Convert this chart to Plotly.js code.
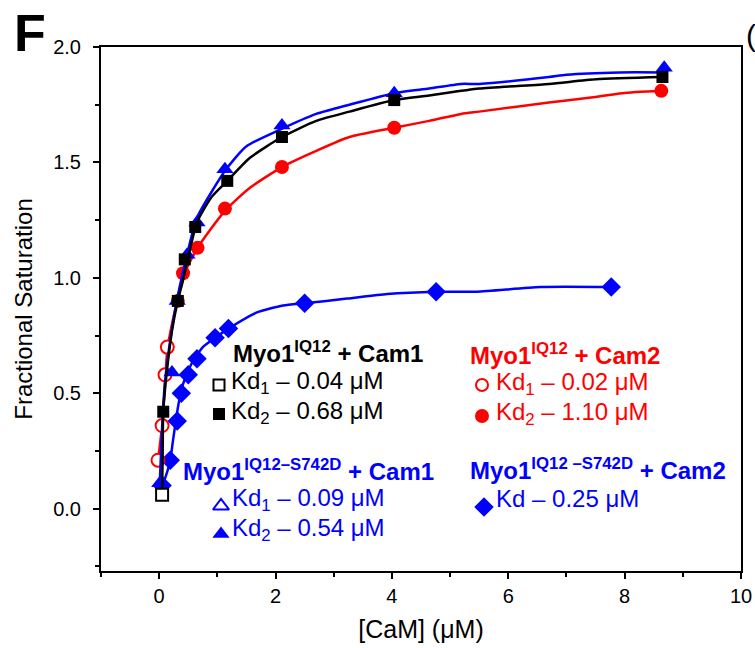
<!DOCTYPE html>
<html>
<head>
<meta charset="utf-8">
<script src="https://cdn.plot.ly/plotly-3.0.1.min.js"></script>
<style>
  html, body { margin: 0; padding: 0; background: #fff; }
  #chart { width: 755px; height: 648px; }
</style>
</head>
<body>
<div id="chart"></div>
<script>
// ---- Myo1 IQ12 + Cam1 (black) ----
const cam1OpenX = [0.05];
const cam1OpenY = [0.06];
const cam1FilledX = [0.07, 0.32, 0.44, 0.62, 1.17, 2.11, 4.04, 8.65];
const cam1FilledY = [0.42, 0.90, 1.08, 1.22, 1.42, 1.61, 1.77, 1.87];
const cam1FitX = [0.05, 0.06, 0.07, 0.13, 0.22, 0.31, 0.41, 0.49, 0.65, 0.90, 1.17, 1.56, 2.11, 2.70, 3.27, 4.04, 4.64, 5.50, 6.70, 7.51, 8.65];
const cam1FitY = [0.06, 0.25, 0.42, 0.59, 0.77, 0.89, 0.99, 1.08, 1.24, 1.35, 1.42, 1.52, 1.61, 1.68, 1.72, 1.77, 1.79, 1.82, 1.84, 1.86, 1.87];

// ---- Myo1 IQ12 + Cam2 (red) ----
const cam2OpenX = [-0.02, 0.05, 0.10, 0.14];
const cam2OpenY = [0.21, 0.36, 0.58, 0.70];
const cam2FilledX = [0.32, 0.41, 0.66, 1.13, 2.11, 4.04, 8.63];
const cam2FilledY = [0.90, 1.02, 1.13, 1.30, 1.48, 1.65, 1.81];
const cam2FitX = [-0.02, 0.05, 0.10, 0.14, 0.22, 0.31, 0.40, 0.66, 1.13, 1.56, 2.11, 2.70, 3.27, 4.04, 4.64, 5.19, 5.50, 6.70, 7.39, 7.96, 8.63];
const cam2FitY = [0.21, 0.36, 0.54, 0.69, 0.80, 0.90, 1.00, 1.13, 1.29, 1.39, 1.48, 1.55, 1.61, 1.65, 1.68, 1.71, 1.72, 1.76, 1.78, 1.80, 1.81];

// ---- Myo1 IQ12-S742D + Cam1 (blue triangles) ----
const sdCam1X = [0.01, 0.22, 0.31, 0.48, 0.65, 1.13, 2.11, 4.04, 8.68];
const sdCam1Y = [0.11, 0.59, 0.90, 1.10, 1.24, 1.47, 1.66, 1.80, 1.91];
const sdCam1FitX = [0.01, 0.05, 0.10, 0.22, 0.31, 0.48, 0.65, 1.15, 1.50, 2.06, 2.70, 3.27, 4.04, 4.64, 5.19, 5.50, 6.70, 7.00, 7.91, 8.68];
const sdCam1FitY = [0.11, 0.35, 0.55, 0.78, 0.91, 1.10, 1.26, 1.47, 1.57, 1.64, 1.71, 1.75, 1.80, 1.82, 1.84, 1.84, 1.87, 1.88, 1.89, 1.89];

// ---- Myo1 IQ12-S742D + Cam2 (blue diamonds) ----
const sdCam2X = [0.05, 0.19, 0.31, 0.38, 0.50, 0.65, 0.96, 1.19, 2.50, 4.76, 7.77];
const sdCam2Y = [0.10, 0.21, 0.38, 0.50, 0.58, 0.65, 0.74, 0.78, 0.89, 0.94, 0.96];
const sdCam2FitX = [0.05, 0.10, 0.19, 0.24, 0.33, 0.41, 0.56, 0.75, 0.96, 1.19, 1.68, 2.13, 2.50, 3.23, 3.92, 4.76, 5.46, 6.55, 7.77];
const sdCam2FitY = [0.10, 0.13, 0.21, 0.30, 0.45, 0.54, 0.63, 0.70, 0.74, 0.78, 0.85, 0.88, 0.89, 0.91, 0.93, 0.94, 0.94, 0.96, 0.96];

const xTickVals = [0, 2, 4, 6, 8, 10];
const yTickVals = [0, 0.5, 1.0, 1.5, 2.0];
const yTickText = ['0.0', '0.5', '1.0', '1.5', '2.0'];

const BLACK = '#000000', RED = '#ff0000', BLUE = '#0000ff';
const FONT = 'Liberation Sans, Arial, sans-serif';

// plot area in page pixels, used to place keys and labels
const W = 755, H = 648;
const M = { l: 101, r: 14, t: 47, b: 77 };
const pw = W - M.l - M.r, ph = H - M.t - M.b;
const px = v => (v - M.l) / pw;
const py = v => (H - M.b - v) / ph;

function fit(x, y, color) {
  return { x, y, mode: 'lines', type: 'scatter', hoverinfo: 'skip',
           line: { color, width: 2.5, shape: 'spline', smoothing: 0.6 }, showlegend: false };
}
function pts(x, y, symbol, color, size, open) {
  return { x, y, mode: 'markers', type: 'scatter', showlegend: false, cliponaxis: false,
           marker: { symbol, size, color: open ? '#ffffff' : color,
                     line: { color, width: open ? 2 : 0 } } };
}

const traces = [
  fit(sdCam2FitX, sdCam2FitY, BLUE),
  pts(sdCam2X, sdCam2Y, 'diamond', BLUE, 15, false),
  fit(cam2FitX, cam2FitY, RED),
  pts(cam2OpenX, cam2OpenY, 'circle', RED, 13, true),
  pts(cam2FilledX, cam2FilledY, 'circle', RED, 14, false),
  fit(sdCam1FitX, sdCam1FitY, BLUE),
  pts(sdCam1X, sdCam1Y, 'triangle-up', BLUE, 15, false),
  fit(cam1FitX, cam1FitY, BLACK),
  pts(cam1OpenX, cam1OpenY, 'square', BLACK, 12, true),
  pts(cam1FilledX, cam1FilledY, 'square', BLACK, 12, false),
];

// key symbols beside the Kd labels (overlay axes spanning the plot area 0..1)
const keys = [
  { x: 219, y: 385, s: 'square', c: BLACK, size: 11, open: true },
  { x: 219, y: 414, s: 'square', c: BLACK, size: 12, open: false },
  { x: 482, y: 385, s: 'circle', c: RED, size: 12, open: true },
  { x: 482, y: 416, s: 'circle', c: RED, size: 14, open: false },
  { x: 221, y: 506, s: 'triangle-up', c: BLUE, size: 14, open: true },
  { x: 221, y: 534, s: 'triangle-up', c: BLUE, size: 15, open: false },
  { x: 484, y: 507, s: 'diamond', c: BLUE, size: 15, open: false },
];
keys.forEach(k => {
  const t = pts([px(k.x)], [py(k.y)], k.s, k.c, k.size, k.open);
  t.xaxis = 'x2'; t.yaxis = 'y2';
  traces.push(t);
});

function label(x, y, text, color, size, bold) {
  return { xref: 'paper', yref: 'paper', x: px(x), y: py(y), xanchor: 'left', yanchor: 'middle',
           text: bold ? '<b>' + text + '</b>' : text, showarrow: false,
           font: { family: FONT, size, color } };
}

const annotations = [
  label(231, 352, 'Myo1<sup>IQ12</sup> + Cam1', BLACK, 24, true),
  label(229, 382, 'Kd<sub>1</sub> – 0.04 μM', BLACK, 24, false),
  label(229, 412, 'Kd<sub>2</sub> – 0.68 μM', BLACK, 24, false),
  label(468, 354, 'Myo1<sup>IQ12</sup> + Cam2', RED, 24, true),
  label(494, 383, 'Kd<sub>1</sub> – 0.02 μM', RED, 24, false),
  label(494, 413, 'Kd<sub>2</sub> – 1.10 μM', RED, 24, false),
  label(181, 470, 'Myo1<sup>IQ12–S742D</sup> + Cam1', BLUE, 24, true),
  label(230, 499, 'Kd<sub>1</sub> – 0.09 μM', BLUE, 24, false),
  label(230, 529, 'Kd<sub>2</sub> – 0.54 μM', BLUE, 24, false),
  label(468, 469, 'Myo1<sup>IQ12 –S742D</sup> + Cam2', BLUE, 24, true),
  label(494, 498, 'Kd – 0.25 μM', BLUE, 24, false),
  // panel letter
  { xref: 'paper', yref: 'paper', x: px(12), y: py(33), xanchor: 'left', yanchor: 'middle',
    text: '<b>F</b>', showarrow: false, font: { family: FONT, size: 52, color: BLACK } },
  { xref: 'paper', yref: 'paper', x: px(744), y: py(36), xanchor: 'left', yanchor: 'middle',
    text: '(', showarrow: false, font: { family: FONT, size: 30, color: BLACK } },
];

const axisCommon = {
  showgrid: false, zeroline: false, showline: true, linecolor: BLACK, linewidth: 2,
  mirror: true, ticks: 'outside', ticklen: 6, tickwidth: 2, tickcolor: BLACK,
  tickfont: { family: FONT, size: 20, color: BLACK },
};

const layout = {
  width: W, height: H,
  margin: { l: M.l, r: M.r, t: M.t, b: M.b },
  paper_bgcolor: '#ffffff', plot_bgcolor: '#ffffff',
  showlegend: false,
  xaxis: Object.assign({}, axisCommon, {
    range: [-1, 10], tickvals: xTickVals, ticklabelstandoff: 0,
    minor: { dtick: 1, tick0: 0, ticks: 'outside', ticklen: 4, tickwidth: 2, tickcolor: BLACK },
    title: { text: '[CaM] (μM)', font: { family: FONT, size: 25, color: BLACK }, standoff: 14 },
  }),
  yaxis: Object.assign({}, axisCommon, {
    range: [-0.27, 2.0], tickvals: yTickVals, ticktext: yTickText, ticklabelstandoff: 8,
    minor: { dtick: 0.25, tick0: 0, ticks: 'outside', ticklen: 4, tickwidth: 2, tickcolor: BLACK },
    title: { text: 'Fractional Saturation', font: { family: FONT, size: 24, color: BLACK }, standoff: 14 },
  }),
  xaxis2: { overlaying: 'x', range: [0, 1], visible: false, fixedrange: true },
  yaxis2: { overlaying: 'y', range: [0, 1], visible: false, fixedrange: true },
  annotations,
};

Plotly.newPlot('chart', traces, layout, { displayModeBar: false, staticPlot: true });
</script>
</body>
</html>
